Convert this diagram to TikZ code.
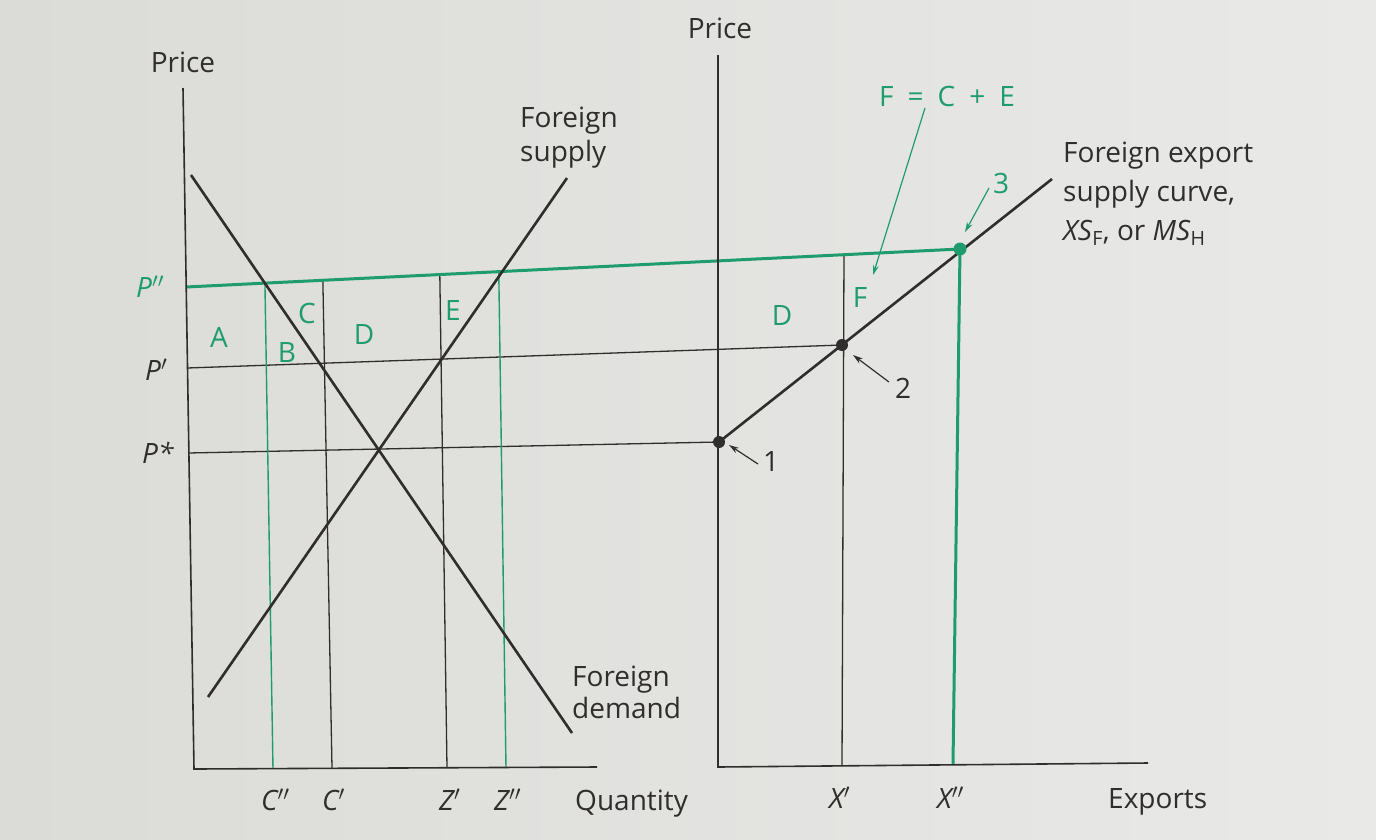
\documentclass[tikz,border=0pt]{standalone}
\usepackage{fontspec}
\setmainfont{Open Sans}
\usetikzlibrary{arrows.meta,calc}
\definecolor{grn}{RGB}{30,156,110}
\definecolor{ink}{RGB}{48,45,45}
\definecolor{paperL}{RGB}{219,219,215}
\definecolor{paperR}{RGB}{233,234,232}
\begin{document}
\begin{tikzpicture}[x=1pt,y=-1pt,
  curve/.style={ink, line width=2.6pt},
  gridline/.style={ink, line width=1.3pt},
  axisline/.style={ink, line width=1.6pt},
  gthin/.style={grn, line width=1.4pt},
  gthick/.style={grn, line width=3pt},
  lab/.style={font=\fontsize{28}{33}\selectfont, text=ink, inner sep=0pt},
  glab/.style={font=\fontsize{28}{33}\selectfont, text=grn, inner sep=0pt},
  dot/.style={circle, fill=ink, minimum size=12pt, inner sep=0pt},
  gdot/.style={circle, fill=grn, minimum size=13pt, inner sep=0pt},
  ptr/.style={-{Stealth[length=10pt,width=6pt]}, line width=1.2pt},
]
\shade[left color=paperL, right color=paperR] (0,0) rectangle (1376,839);
\useasboundingbox (0,0) rectangle (1376,839);

% ---------- key coordinates ----------
\coordinate (ppL) at (186,287);   % P'' at left axis
\coordinate (p1) at (719,442);
\coordinate (p2) at (842,345);
\coordinate (p3) at (960,249);
\coordinate (lAxTop) at (183,88);
\coordinate (lAxO) at (194,769);
\coordinate (lAxEnd) at (597,767);
\coordinate (rAxTop) at (718,55);
\coordinate (rAxO) at (718,767);
\coordinate (rAxEnd) at (1148,763);
% vertical line bottoms and reference points
\coordinate (cppB) at (273,769); \coordinate (cppR) at (265,287);
\coordinate (cpB) at (332,768);  \coordinate (cpR) at (323,287);
\coordinate (zpB) at (447,768);  \coordinate (zpR) at (440,287);
\coordinate (zppB) at (506,768); \coordinate (zppR) at (499,287);
\coordinate (xpB) at (842,766);  \coordinate (xpR) at (844,257);
\coordinate (xppB) at (953,764);
\coordinate (cppT) at (intersection of ppL--p3 and cppB--cppR);
\coordinate (cpT) at (intersection of ppL--p3 and cpB--cpR);
\coordinate (zpT) at (intersection of ppL--p3 and zpB--zpR);
\coordinate (zppT) at (intersection of ppL--p3 and zppB--zppR);
\coordinate (xpT) at (intersection of ppL--p3 and xpB--xpR);
\coordinate (pL) at (187,368);
\coordinate (psL) at (188,453);

% ---------- grid lines ----------
\draw[gridline] (pL) -- (p2);
\draw[gridline] (psL) -- (p1);
\draw[gridline] (cpT) -- (cpB);
\draw[gridline] (zpT) -- (zpB);
\draw[gridline] (xpT) -- (xpB);
\draw[gthin] (cppT) -- (cppB);
\draw[gthin] (zppT) -- (zppB);
\draw[gthick] (ppL) -- (p3);
\draw[gthick] (p3) -- (xppB);

% ---------- axes ----------
\draw[axisline] (lAxTop) -- (lAxO) -- (lAxEnd);
\draw[axisline] (rAxTop) -- (rAxO) -- (rAxEnd);

% ---------- curves ----------
\coordinate (dS) at (191,175); \coordinate (dE) at (572,733);
\coordinate (sS) at (208,697); \coordinate (sE) at (567,178);
\coordinate (xsE) at (1052,179);
\draw[curve] (dS) -- (dE);
\draw[curve] (sS) -- (sE);
\draw[curve] (p1) -- (xsE);

\node[dot] (d1) at (p1) {};
\node[dot] (d2) at (p2) {};
\node[gdot] (d3) at (p3) {};

% ---------- axis labels ----------
\node[lab] (priceL) at (183,62) {Price};
\node[lab] (priceR) at (720,28) {Price};
\node[lab, anchor=base west] (quant) at (575,810) {Quantity};
\node[lab, anchor=base west] (expo) at (1108,808) {Exports};
\node[lab, anchor=base west] (lcpp) at (261,810) {\itshape C$''$};
\node[lab, anchor=base west] (lcp) at (322,810) {\itshape C$'$};
\node[lab, anchor=base west] (lzp) at (439,810) {\itshape Z$'$};
\node[lab, anchor=base west] (lzpp) at (494,810) {\itshape Z$''$};
\node[lab, anchor=base west] (lxp) at (829,808) {\itshape X$'$};
\node[lab, anchor=base west] (lxpp) at (937,808) {\itshape X$''$};
\node[glab, anchor=base west] (lppp) at (136,297) {\itshape P$''$};
\node[lab, anchor=base west] (lpp) at (145,380) {\itshape P$'$};
\node[lab, anchor=base west] (lps) at (142,463) {\itshape P*};

% ---------- curve labels ----------
\node[lab, anchor=base west] (fs1) at (520,127) {Foreign};
\node[lab, anchor=base west] (fs2) at (520,161) {supply};
\node[lab, anchor=base west] (fd1) at (572,686) {Foreign};
\node[lab, anchor=base west] (fd2) at (572,718) {demand};
\node[lab, anchor=base west] (fe1) at (1063,162) {Foreign export};
\node[lab, anchor=base west] (fe2) at (1063,201) {supply curve,};
\node[lab, anchor=base west] (fe3) at (1063,240) {\textit{XS}\textsubscript{F}, or \textit{MS}\textsubscript{H}};

% ---------- area labels ----------
\node[glab] (aA) at (219,337) {A};
\node[glab] (aB) at (287,352) {B};
\node[glab] (aC) at (307,313) {C};
\node[glab] (aD) at (364,334) {D};
\node[glab] (aE) at (453,310) {E};
\node[glab] (aD2) at (782,315) {D};
\node[glab] (aF) at (860,297) {F};
\node[glab] (fce) at (947,96) {F\hspace{14pt}=\hspace{14pt}C\hspace{14pt}+\hspace{14pt}E};

% ---------- point labels and pointers ----------
\node[lab] (n1) at (771,461) {1};
\node[lab] (n2) at (903,388) {2};
\node[glab] (n3) at (1001,183) {3};
\coordinate (a1s) at (758,464); \coordinate (a1e) at (729,445);
\coordinate (a2s) at (889,382); \coordinate (a2e) at (853,355);
\coordinate (a3s) at (989,188); \coordinate (a3e) at (965,232);
\coordinate (afs) at (925,108); \coordinate (afe) at (873,275);
\draw[ptr, ink] (a1s) -- (a1e);
\draw[ptr, ink] (a2s) -- (a2e);
\draw[ptr, grn] (a3s) -- (a3e);
\draw[ptr, grn] (afs) -- (afe);
\end{tikzpicture}
\end{document}
